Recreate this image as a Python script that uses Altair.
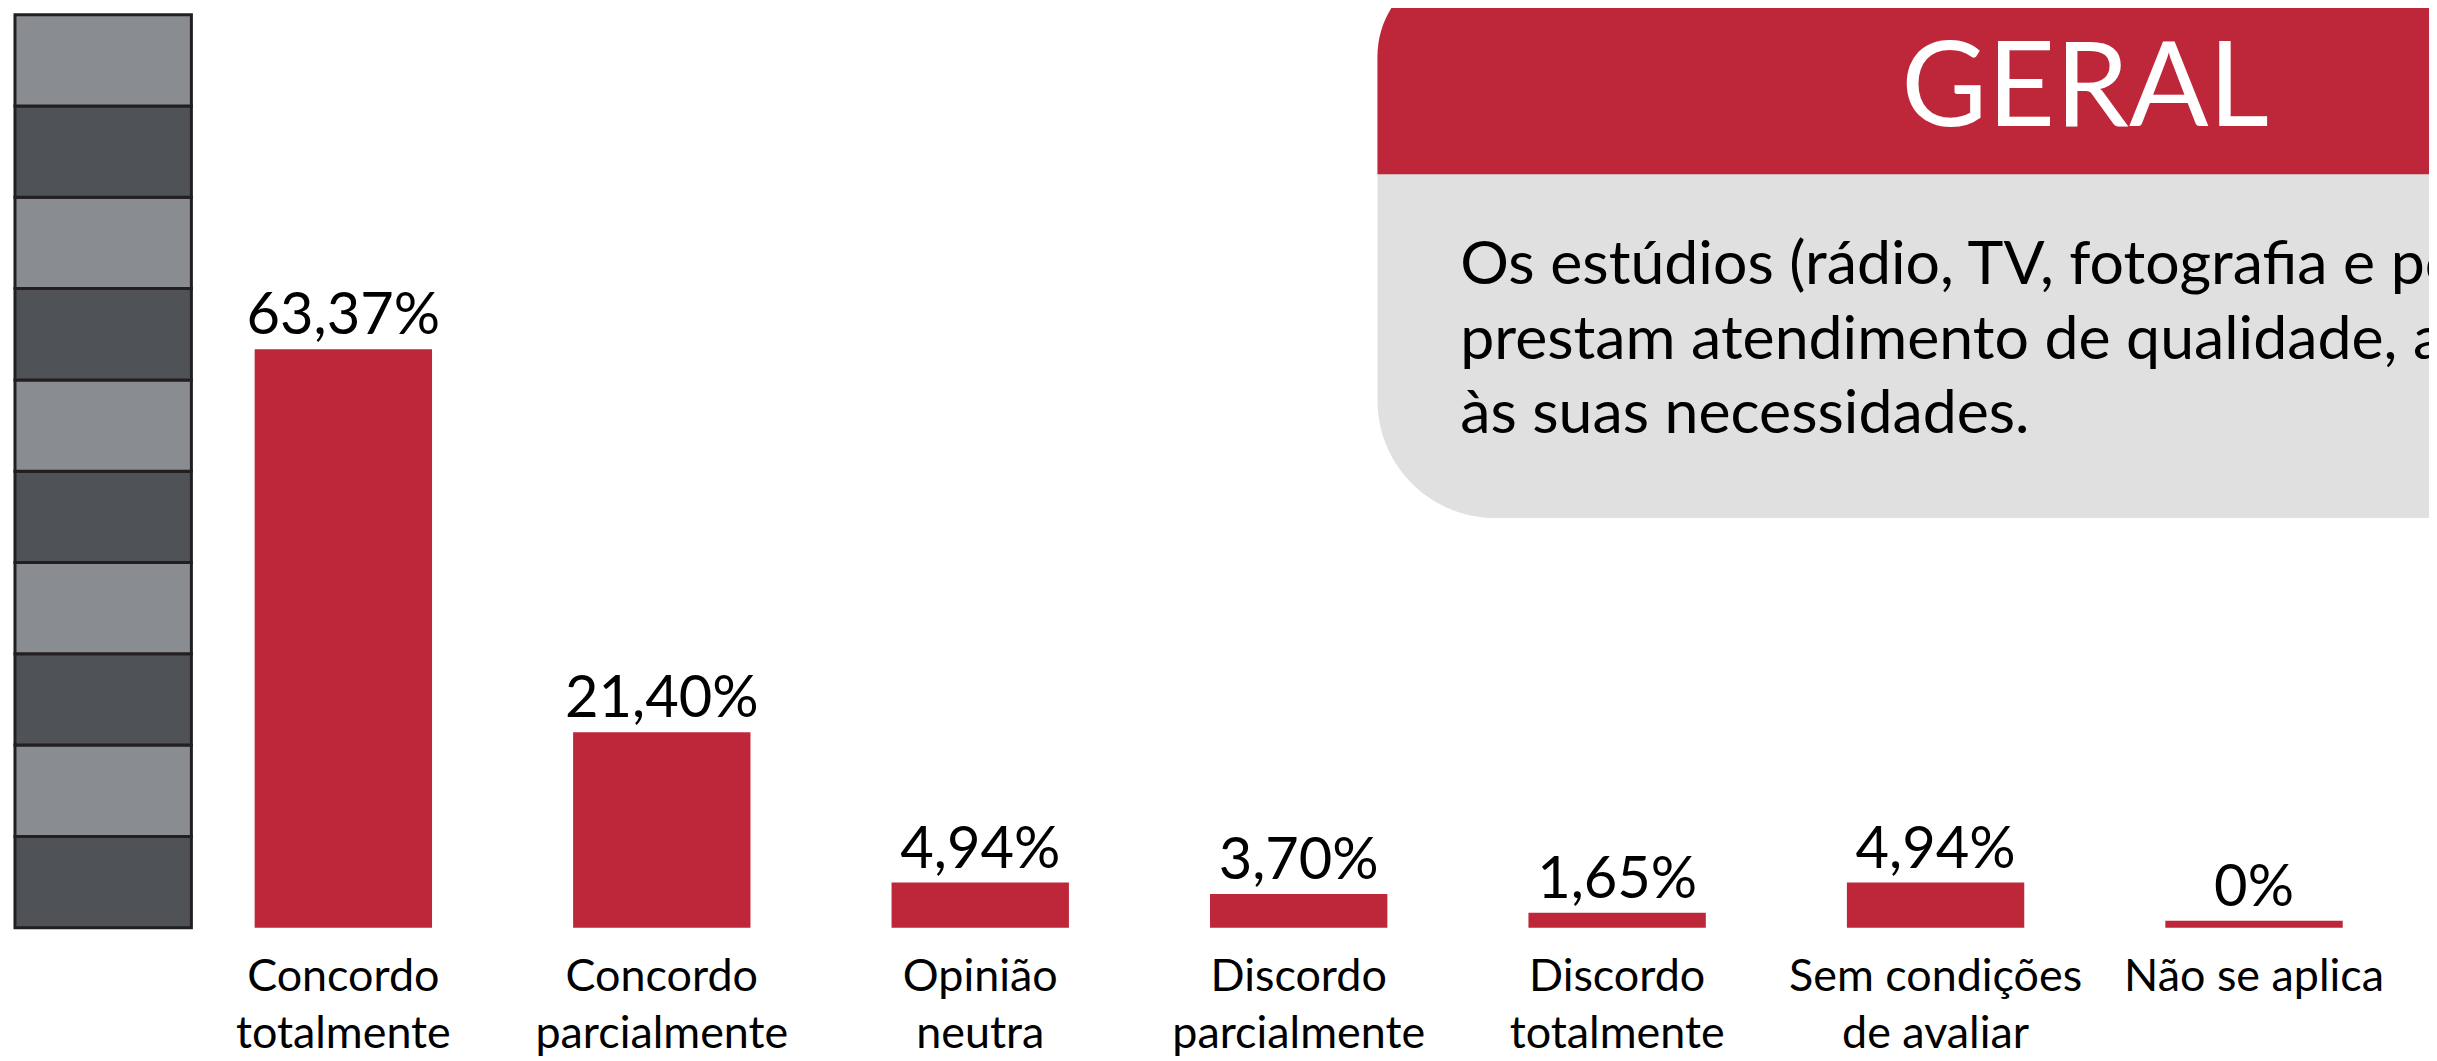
import altair as alt
import pandas as pd

# ---- data ----
cat_line1 = ["Concordo", "Concordo", "Opinião", "Discordo", "Discordo", "Sem condições", "Não se aplica"]
cat_line2 = ["totalmente", "parcialmente", "neutra", "parcialmente", "totalmente", "de avaliar", ""]
values = [63.37, 21.40, 4.94, 3.70, 1.65, 4.94, 0.0]

stack_lo = [0, 10, 20, 30, 40, 50, 60, 70, 80, 90]
stack_hi = [10, 20, 30, 40, 50, 60, 70, 80, 90, 100]
stack_shade = ["dark", "light", "dark", "light", "dark", "light", "dark", "light", "dark", "light"]

header_title = "GERAL"
question_lines = [
    "Os estúdios (rádio, TV, fotografia e pós-produção)",
    "prestam atendimento de qualidade, atendendo",
    "às suas necessidades.",
]

RED = "#be263a"
FONT = "Lato"

cats = [a if not b else a + "|" + b for a, b in zip(cat_line1, cat_line2)]
labels = [("0%" if v == 0 else f"{v:.2f}".replace(".", ",") + "%") for v in values]
df = pd.DataFrame({"cat": cats, "value": values, "label": labels})
stack_df = pd.DataFrame({"lo": stack_lo, "hi": stack_hi, "shade": stack_shade})
one = pd.DataFrame({"k": [0]})

W, H = 2429, 1053

yscale = alt.Scale(domain=[0, 100], range=[921, 5], nice=False, zero=True)
xscale = alt.Scale(range=[176.7, 2413.2], paddingInner=0.443, paddingOuter=0.2215)

x_enc = alt.X(
    "cat:N",
    sort=cats,
    scale=xscale,
    axis=alt.Axis(
        title=None, domain=False, ticks=False, grid=False, labelAngle=0,
        labelFont=FONT, labelFontSize=45, labelColor="black",
        labelPadding=63, labelBaseline="alphabetic", labelLineHeight=57,
        labelExpr="split(datum.label, '|')", labelLimit=1000,
        labelOverlap=False, labelBound=False, labelFlush=False,
        labelAlign="center", offset=-(H - 921),
    ),
)

stack = alt.Chart(stack_df).mark_rect(stroke="#231f20", strokeWidth=3).encode(
    x=alt.value(7), x2=alt.value(184),
    y=alt.Y("lo:Q", scale=yscale, axis=None), y2="hi:Q",
    color=alt.Color("shade:N", scale=alt.Scale(domain=["light", "dark"], range=["#898d91", "#4f5357"]), legend=None),
)

box_gray = alt.Chart(one).mark_rect(color="#dfe0df", cornerRadiusTopLeft=92, cornerRadiusBottomLeft=118).encode(
    x=alt.value(1374), x2=alt.value(2700), y=alt.value(-45), y2=alt.value(510)
)
box_red = alt.Chart(one).mark_rect(color=RED, cornerRadiusTopLeft=92).encode(
    x=alt.value(1374), x2=alt.value(2700), y=alt.value(-45), y2=alt.value(165)
)
title_txt = alt.Chart(one).mark_text(
    text=header_title, font=FONT, fontSize=118, color="white", align="center", baseline="alphabetic"
).encode(x=alt.value(2084), y=alt.value(117))
question_txt = alt.Chart(one).mark_text(
    text=question_lines, font=FONT, fontSize=61, lineHeight=75, color="black", align="left", baseline="alphabetic"
).encode(x=alt.value(1457), y=alt.value(275))

bars = alt.Chart(df).transform_calculate(bar_top="max(datum.value, 0.76)").mark_bar(color=RED).encode(
    x=x_enc, y=alt.Y("bar_top:Q", scale=yscale, axis=None)
)
value_txt = alt.Chart(df).transform_calculate(bar_top="max(datum.value, 0.76)").mark_text(
    font=FONT, fontSize=58, dy=-15, baseline="alphabetic", align="center", color="black"
).encode(x=x_enc, y=alt.Y("bar_top:Q", scale=yscale, axis=None), text="label:N")

chart = alt.layer(stack, box_gray, box_red, title_txt, question_txt, bars, value_txt).properties(
    width=W, height=H, autosize=alt.AutoSizeParams(type="none"), padding=0, background="white"
).configure_view(strokeWidth=0)

chart.save("out.html", embed_options={"renderer": "svg", "actions": False})
